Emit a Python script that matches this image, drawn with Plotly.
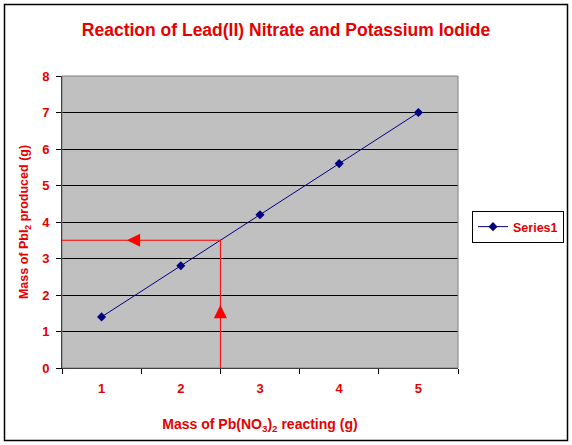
import plotly.graph_objects as go

categories = ["1", "2", "3", "4", "5"]
pbi2_mass = [1.4, 2.8, 4.2, 5.6, 7.0]
y_ticks = [0, 1, 2, 3, 4, 5, 6, 7, 8]
read_y = 3.5  # reading line: PbI2 mass
read_x_idx = 1.5  # reading line position between categories "2" and "3"

RED = "#E60000"
FONT = "Liberation Sans, Arial, sans-serif"

fig = go.Figure()
fig.add_trace(go.Scatter(
    x=categories, y=pbi2_mass, mode="lines+markers", name="Series1",
    line=dict(color="#000080", width=1),
    marker=dict(symbol="diamond", size=7, color="#000080"),
))

W, H = 572, 445
ml, mr, mt, mb = 62, 114, 76, 77
pw, ph = W - ml - mr, H - mt - mb

def px_x(p):
    return (p - ml) / pw

def px_y(p):
    return (H - mb - p) / ph

def bold(size):
    return dict(size=size, color=RED, family=FONT, weight="bold")

shapes = [
    # outer chart border
    dict(type="rect", xref="paper", yref="paper", x0=px_x(4.5), x1=px_x(567.5),
         y0=px_y(440.5), y1=px_y(4.5), line=dict(color="#000000", width=1.5), layer="below"),
    # plot area border
    dict(type="rect", xref="paper", yref="paper", x0=0, x1=1, y0=0, y1=1,
         line=dict(color="#808080", width=1)),
    # reading lines
    dict(type="line", xref="x", yref="y", x0=-0.5, x1=read_x_idx, y0=read_y, y1=read_y,
         line=dict(color="#FF0000", width=1)),
    dict(type="line", xref="x", yref="y", x0=read_x_idx, x1=read_x_idx, y0=0, y1=read_y,
         line=dict(color="#FF0000", width=1)),
]

annotations = [
    dict(x=-0.5 + (127 - ml) / (pw / 5), y=read_y, xref="x", yref="y", text="",
         showarrow=True, ax=12, ay=0, arrowhead=2, arrowsize=0.75, arrowwidth=3.5,
         arrowcolor="#FF0000"),
    dict(x=read_x_idx, y=(H - mb - 305) / (ph / 8), xref="x", yref="y", text="",
         showarrow=True, ax=0, ay=12, arrowhead=2, arrowsize=0.75, arrowwidth=3.5,
         arrowcolor="#FF0000"),
]

fig.update_layout(
    width=W, height=H,
    margin=dict(l=ml, r=mr, t=mt, b=mb, autoexpand=False),
    paper_bgcolor="white", plot_bgcolor="#C0C0C0",
    font=dict(family=FONT, color=RED, size=12),
    title=dict(text="Reaction of Lead(II) Nitrate and Potassium Iodide",
               x=0.5, xanchor="center", y=1 - 30 / H, yanchor="middle",
               font=bold(17.5)),
    xaxis=dict(type="category", range=[-0.5, 4.5], tickson="boundaries",
               ticks="outside", ticklen=5, tickcolor="black", showline=True,
               linecolor="black", linewidth=1, showgrid=False, zeroline=False,
               ticklabelstandoff=8,
               tickfont=bold(13),
               title=dict(text="Mass of Pb(NO<sub>3</sub>)<sub>2</sub> reacting (g)",
                          font=bold(14), standoff=24)),
    yaxis=dict(range=[0, 8], tickvals=y_ticks, ticks="outside", ticklen=5,
               tickcolor="black", showline=True, linecolor="black", linewidth=1,
               showgrid=True, gridcolor="black", gridwidth=1, zeroline=False,
               ticklabelstandoff=4,
               tickfont=bold(13),
               title=dict(text="Mass of PbI<sub>2</sub> produced (g)",
                          font=bold(12.5), standoff=10)),
    showlegend=True,
    legend=dict(x=px_x(472), y=px_y(211), xanchor="left", yanchor="top",
                bgcolor="white", bordercolor="black", borderwidth=1,
                font=bold(12.5), itemwidth=30),
    shapes=shapes,
    annotations=annotations,
)

fig.write_html("out.html")
